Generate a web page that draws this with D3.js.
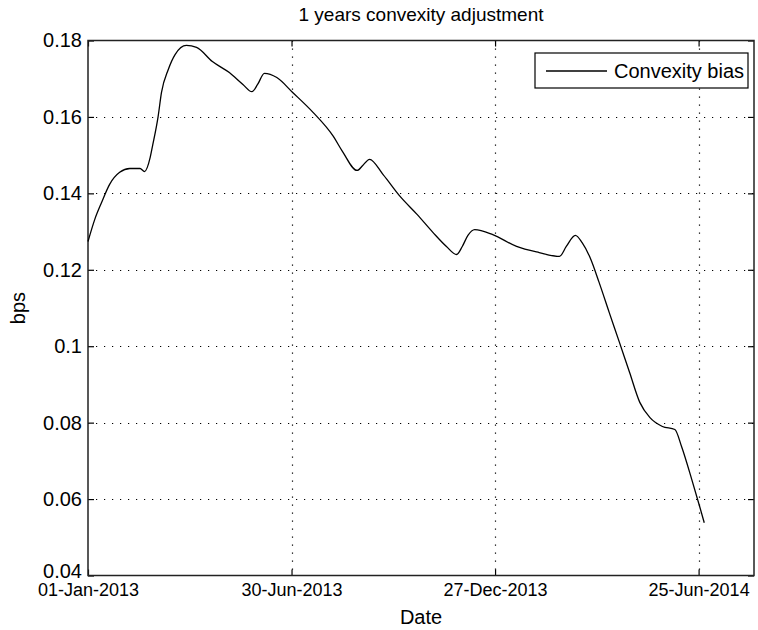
<!DOCTYPE html>
<html>
<head>
<meta charset="utf-8">
<script src="https://cdn.jsdelivr.net/npm/d3@7"></script>
<style>
  body { margin: 0; background: #fff; }
  text { font-family: "Liberation Sans", Arial, sans-serif; fill: #000; }
</style>
</head>
<body>
<div id="chart"></div>
<script>
// series: days after startDate and the bias in bps
var startDate = "2013-01-01";
var endDate = "2014-08-13";
var dayOffsets = [0, 6, 12, 19, 28, 37, 46, 50, 55, 57, 62, 65, 71, 77, 87, 96, 110, 125, 137, 145,
                  150, 156, 167, 181, 199, 217, 225, 238, 243, 249, 261, 276, 291, 305, 317, 326, 331, 336,
                  342, 358, 379, 399, 417, 423, 431, 437, 444, 452, 461, 470, 479, 488, 497, 508, 519,
                  525, 534, 541, 545];
var biasValues = [0.1274, 0.1332, 0.1376, 0.1423, 0.1455, 0.1465, 0.1465, 0.1457, 0.1494, 0.1523,
                  0.1601, 0.1664, 0.1724, 0.1763, 0.1787, 0.1782, 0.1745, 0.1716, 0.1685, 0.1666,
                  0.1685, 0.1714, 0.1703, 0.1664, 0.1612, 0.1549, 0.1510, 0.1460, 0.1473, 0.1489,
                  0.1449, 0.1392, 0.1345, 0.1298, 0.1261, 0.1240, 0.1261, 0.1290, 0.1305, 0.1292,
                  0.1261, 0.1245, 0.1235, 0.1261, 0.1290, 0.1271, 0.1232, 0.1167, 0.1088, 0.1010,
                  0.0931, 0.0853, 0.0813, 0.0790, 0.0782, 0.0737, 0.0651, 0.0580, 0.0538];

var xTickDates = ["2013-01-01", "2013-06-30", "2013-12-27", "2014-06-25"];
var yTicks = [0.04, 0.06, 0.08, 0.1, 0.12, 0.14, 0.16, 0.18];
var yTickLabels = ["0.04", "0.06", "0.08", "0.1", "0.12", "0.14", "0.16", "0.18"];

var parseDate = d3.timeParse("%Y-%m-%d");
var fmtDate = d3.timeFormat("%d-%b-%Y");

var W = 758, H = 630;
var plotLeft = 88, plotRight = 754, plotTop = 40.5, plotBottom = 575.5;

var svg = d3.select("#chart").append("svg")
    .attr("width", W)
    .attr("height", H);

var x = d3.scaleTime()
    .domain([parseDate(startDate), parseDate(endDate)])
    .range([plotLeft, plotRight]);

var y = d3.scaleLinear()
    .domain([0.04, 0.18])
    .range([plotBottom, plotTop]);

var start = parseDate(startDate);
var data = dayOffsets.map(function(d, i) {
    return { date: d3.timeDay.offset(start, d), value: biasValues[i] };
});
var tickDates = xTickDates.map(parseDate);

// dotted grid
var grid = svg.append("g").attr("class", "grid")
    .attr("stroke", "#000")
    .attr("stroke-width", 1.2)
    .attr("stroke-dasharray", "1.2,6.8");

grid.selectAll("line.gx")
    .data(tickDates.slice(1))
    .enter().append("line")
    .attr("class", "gx")
    .attr("x1", function(d) { return Math.round(x(d)) + 0.5; })
    .attr("x2", function(d) { return Math.round(x(d)) + 0.5; })
    .attr("y1", plotTop)
    .attr("y2", plotBottom);

grid.selectAll("line.gy")
    .data(yTicks.slice(1, -1))
    .enter().append("line")
    .attr("class", "gy")
    .attr("x1", plotLeft)
    .attr("x2", plotRight)
    .attr("y1", function(d) { return Math.round(y(d)) + 0.5; })
    .attr("y2", function(d) { return Math.round(y(d)) + 0.5; });

// axes with inward ticks
var xAxis = d3.axisBottom(x)
    .tickValues(tickDates)
    .tickFormat(fmtDate)
    .tickSizeInner(-6)
    .tickSizeOuter(0)
    .tickPadding(8);

var gx = svg.append("g")
    .attr("transform", "translate(0," + plotBottom + ")")
    .call(xAxis);
gx.selectAll("text").style("font-size", "18px");

svg.append("g")
    .attr("transform", "translate(0," + plotTop + ")")
    .call(d3.axisTop(x).tickValues(tickDates).tickFormat("").tickSizeInner(-6).tickSizeOuter(0));

var yAxis = d3.axisLeft(y)
    .tickValues(yTicks)
    .tickFormat(function(d, i) { return yTickLabels[i]; })
    .tickSizeInner(-6)
    .tickSizeOuter(0)
    .tickPadding(6);

var gy = svg.append("g")
    .attr("transform", "translate(" + plotLeft + ",0)")
    .call(yAxis);
gy.selectAll("text").style("font-size", "20px");
// the lowest label sits a little higher, clear of the date labels
gy.selectAll("text").filter(function(d) { return d === 0.04; }).attr("dy", "0.1em");

svg.append("g")
    .attr("transform", "translate(" + plotRight + ",0)")
    .call(d3.axisRight(y).tickValues(yTicks).tickFormat("").tickSizeInner(-6).tickSizeOuter(0));

svg.selectAll(".domain").remove();
svg.selectAll(".tick line").attr("stroke", "#000").attr("stroke-width", 1.2);

// axes box
svg.append("rect")
    .attr("x", plotLeft)
    .attr("y", plotTop)
    .attr("width", plotRight - plotLeft)
    .attr("height", plotBottom - plotTop)
    .attr("fill", "none")
    .attr("stroke", "#222")
    .attr("stroke-width", 1.5);

// the series
var line = d3.line()
    .x(function(d) { return x(d.date); })
    .y(function(d) { return y(d.value); })
    .curve(d3.curveMonotoneX);

svg.append("path")
    .datum(data)
    .attr("fill", "none")
    .attr("stroke", "#000")
    .attr("stroke-width", 1.3)
    .attr("d", line);

// legend
var legend = svg.append("g").attr("class", "legend");
legend.append("rect")
    .attr("x", 535)
    .attr("y", 53)
    .attr("width", 213)
    .attr("height", 35)
    .attr("fill", "#fff")
    .attr("stroke", "#000")
    .attr("stroke-width", 1.2);
legend.append("line")
    .attr("x1", 546)
    .attr("x2", 607)
    .attr("y1", 71)
    .attr("y2", 71)
    .attr("stroke", "#000")
    .attr("stroke-width", 1.3);
legend.append("text")
    .attr("x", 614)
    .attr("y", 78)
    .style("font-size", "20px")
    .text("Convexity bias");

// titles
svg.append("text")
    .attr("x", (plotLeft + plotRight) / 2)
    .attr("y", 21)
    .attr("text-anchor", "middle")
    .style("font-size", "19px")
    .text("1 years convexity adjustment");

svg.append("text")
    .attr("x", (plotLeft + plotRight) / 2)
    .attr("y", 624)
    .attr("text-anchor", "middle")
    .style("font-size", "20px")
    .text("Date");

svg.append("text")
    .attr("transform", "translate(25," + (plotTop + plotBottom) / 2 + ") rotate(-90)")
    .attr("text-anchor", "middle")
    .style("font-size", "20px")
    .text("bps");
</script>
</body>
</html>
